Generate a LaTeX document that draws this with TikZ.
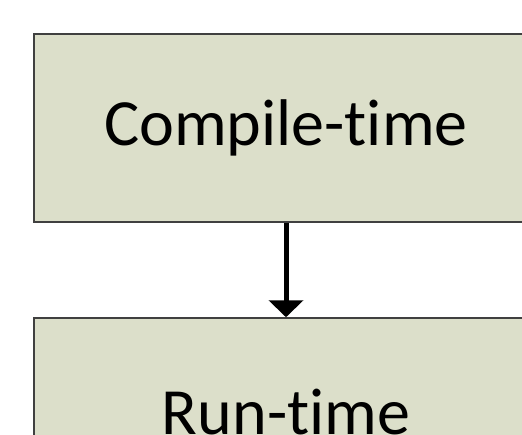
\documentclass[tikz,border=0pt]{standalone}
\usepackage{fontspec}
\setmainfont[Ligatures=NoCommon]{Carlito}
\usepackage{tikz}
\usetikzlibrary{positioning,arrows.meta}
\definecolor{boxfill}{RGB}{220,223,202}
\definecolor{boxline}{RGB}{64,64,64}
\tikzset{
  phase/.style={
    draw=boxline,
    line width=1.5pt,
    fill=boxfill,
    minimum width=504pt,
    minimum height=188pt,
    inner sep=0pt,
    font=\fontsize{66}{70}\selectfont
  }
}

\begin{document}
\begin{tikzpicture}[x=1pt,y=1pt]
          \clip (0,0) rectangle (522,-434);
          \node[phase] (CT) at (286,-128) {Compile-time};
          \node[phase, on grid, below=284pt of CT] (RT) {Run-time};
          \draw[line width=5pt, -{Triangle[width=34pt,length=17pt]}] (CT.south) to (RT.north);
        \end{tikzpicture}
\end{document}
